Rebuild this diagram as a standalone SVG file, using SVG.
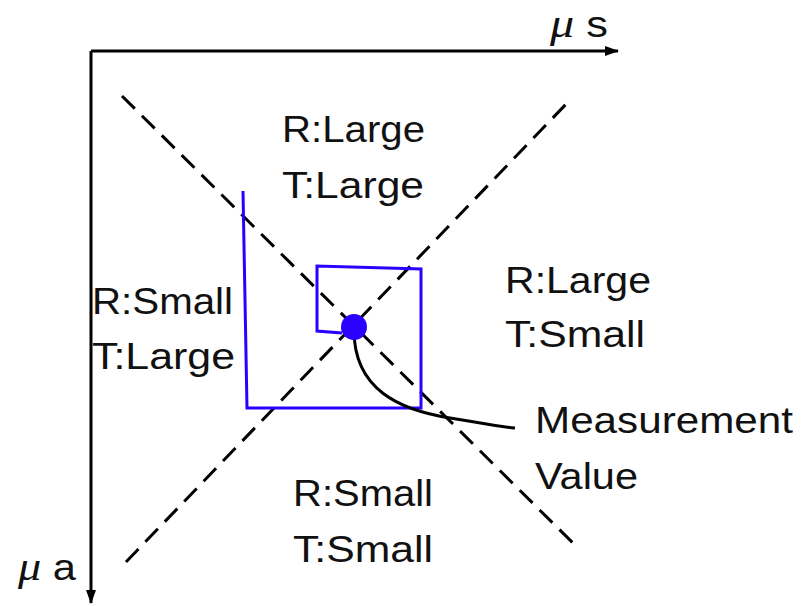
<svg xmlns="http://www.w3.org/2000/svg" width="812" height="606" viewBox="0 0 812 606">
<style>
.t{font-family:"Liberation Sans",Arial,sans-serif;font-size:36px;fill:#111}
.mu{font-family:"Liberation Serif","DejaVu Serif",serif;font-style:italic;font-size:40px}
.axis{stroke:#000;stroke-width:3;fill:none}
.dash{stroke:#000;stroke-width:3;fill:none;stroke-dasharray:18 10}
.blue{stroke:#2a00ff;stroke-width:3;fill:none}
</style>
<defs>
<marker id="ah" markerWidth="14" markerHeight="10" refX="13" refY="5" orient="auto" markerUnits="userSpaceOnUse">
<path d="M0,0 L14,5 L0,10 Z" fill="#000"/>
</marker>
</defs>
<g id="connectors">
<path class="axis" d="M91,51 H618" marker-end="url(#ah)"/>
<path class="axis" d="M91,51 V603" marker-end="url(#ah)"/>
<path class="dash" d="M122,96 L578,548"/>
<path class="dash" d="M126,562 L570,100"/>
<path class="blue" d="M243,191 L247,408 L421,408 L421,269 L317,266 L317,331 L342,333"/>
<path d="M354,330 C354,390 400,410 450,418 S500,427 515,428" stroke="#000" stroke-width="3" fill="none"/>
</g>
<g id="measurement-point"><circle cx="354" cy="327" r="13" fill="#2a00ff"/></g>
<g id="axis-s"><text class="t" x="550" y="37" textLength="58" lengthAdjust="spacingAndGlyphs"><tspan class="mu">μ</tspan> s</text></g>
<g id="axis-a"><text class="t" x="18" y="580" textLength="58" lengthAdjust="spacingAndGlyphs"><tspan class="mu">μ</tspan> a</text></g>
<g id="region-top">
<text class="t" x="282" y="142" textLength="143" lengthAdjust="spacingAndGlyphs">R:Large</text>
<text class="t" x="282" y="198" textLength="142" lengthAdjust="spacingAndGlyphs">T:Large</text>
</g>
<g id="region-left">
<text class="t" x="92" y="314" textLength="141" lengthAdjust="spacingAndGlyphs">R:Small</text>
<text class="t" x="92" y="369" textLength="143" lengthAdjust="spacingAndGlyphs">T:Large</text>
</g>
<g id="region-right">
<text class="t" x="505" y="293" textLength="146" lengthAdjust="spacingAndGlyphs">R:Large</text>
<text class="t" x="505" y="347" textLength="140" lengthAdjust="spacingAndGlyphs">T:Small</text>
</g>
<g id="region-bottom">
<text class="t" x="293" y="506" textLength="140" lengthAdjust="spacingAndGlyphs">R:Small</text>
<text class="t" x="293" y="562" textLength="140" lengthAdjust="spacingAndGlyphs">T:Small</text>
</g>
<g id="measurement-label">
<text class="t" x="535" y="433" textLength="258" lengthAdjust="spacingAndGlyphs">Measurement</text>
<text class="t" x="535" y="489" textLength="103" lengthAdjust="spacingAndGlyphs">Value</text>
</g>
</svg>
